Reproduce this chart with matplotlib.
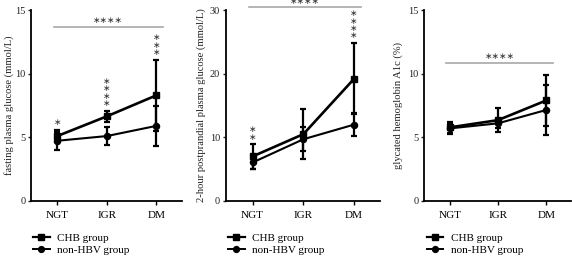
import matplotlib
matplotlib.use("Agg")
import matplotlib.pyplot as plt
from matplotlib.lines import Line2D

plt.rcParams['font.family'] = ['Liberation Serif', 'DejaVu Sans']

categories = ["NGT", "IGR", "DM"]

fpg_chb = [5.1, 6.65, 8.3]
fpg_chb_err = [0.5, 0.45, 2.8]
fpg_non = [4.73, 5.1, 5.9]
fpg_non_err = [0.72, 0.7, 1.55]

ppg_chb = [7.0, 10.5, 19.2]
ppg_chb_err = [1.9, 3.9, 5.6]
ppg_non = [6.05, 9.7, 12.0]
ppg_non_err = [1.0, 1.9, 1.8]

hba_chb = [5.78, 6.35, 7.9]
hba_chb_err = [0.42, 0.95, 2.0]
hba_non = [5.7, 6.1, 7.15]
hba_non_err = [0.4, 0.35, 1.95]

ylabels = ["fasting plasma glucose (mmol/L)",
           "2-hour postprandial plasma glucose (mmol/L)",
           "glycated hemoglobin A1c (%)"]
ylims = [15, 30, 15]
yticks = [[0, 5, 10, 15], [0, 10, 20, 30], [0, 5, 10, 15]]
bar_levels = [13.7, 30.4, 10.85]
stars_per_cat = [[1, 4, 3], [2, 0, 4], [0, 0, 0]]

series = [
    (fpg_chb, fpg_chb_err, fpg_non, fpg_non_err),
    (ppg_chb, ppg_chb_err, ppg_non, ppg_non_err),
    (hba_chb, hba_chb_err, hba_non, hba_non_err),
]

W, H = 572, 258
fig = plt.figure(figsize=(W / 100, H / 100), dpi=100)

# axes in pixel coords: left, right
ax_px = [(31, 181.7), (225.7, 380), (424, 571)]
bottom_px, top_px = 201, 10
legend_x = [33, 228, 426.7]
ylabel_x = [8.8, 201, 398.6]

x = list(range(len(categories)))
for i, (l, r) in enumerate(ax_px):
    ax = fig.add_axes([l / W, (H - bottom_px) / H, (r - l) / W, (bottom_px - top_px) / H])
    chb, chb_e, non, non_e = series[i]
    ax.errorbar(x, chb, yerr=chb_e, color='black', lw=1.9, marker='s', ms=4.6,
                capsize=2, elinewidth=1.6, capthick=1.6, label='CHB group', zorder=3,
                clip_on=False)
    ax.errorbar(x, non, yerr=non_e, color='black', lw=1.5, marker='o', ms=4.4,
                capsize=2, elinewidth=1.6, capthick=1.6, label='non-HBV group', zorder=3,
                clip_on=False)
    ax.set_xlim(-0.53, 2.51)
    ax.set_ylim(0, ylims[i])
    ax.set_yticks(yticks[i])
    ax.set_xticks(x)
    ax.set_xticklabels(categories, fontsize=8)
    ax.tick_params(axis='y', labelsize=7.5, length=2, width=1, pad=2, colors='#222222')
    ax.tick_params(axis='x', length=3, width=1, pad=4)
    for s in ['top', 'right']:
        ax.spines[s].set_visible(False)
    for s in ['left', 'bottom']:
        ax.spines[s].set_linewidth(1.3)
    ax.set_ylabel(ylabels[i], fontsize=7.6, color='#222222', va='center')
    ax.yaxis.set_label_coords((ylabel_x[i] - l) / (r - l), 0.5)

    # significance bar across groups
    ax.plot([-0.07, 2.13], [bar_levels[i]] * 2, color='#a8a8a8', lw=1.2, clip_on=False)
    ax.annotate("∗∗∗∗", xy=(1.03, bar_levels[i]), xytext=(0, 4.5), textcoords='offset points',
                ha='center', va='center', fontsize=6.5, family='DejaVu Sans',
                color='#333333', annotation_clip=False)

    # stacked stars above each category
    for j, n in enumerate(stars_per_cat[i]):
        top = max(chb[j] + chb_e[j], non[j] + non_e[j])
        for k in range(n):
            ax.annotate("∗", xy=(x[j], top), xytext=(0, 5.2 + 5.3 * k),
                        textcoords='offset points', ha='center', va='center',
                        fontsize=6.5, family='DejaVu Sans', color='#333333',
                        annotation_clip=False)

    handles = [Line2D([], [], color='black', lw=1.6, marker='s', ms=4.4),
               Line2D([], [], color='black', lw=1.4, marker='o', ms=4.2)]
    ax.legend(handles, ['CHB group', 'non-HBV group'], loc='upper left',
              bbox_to_anchor=(legend_x[i] / W, 1 - 233 / H),
              bbox_transform=fig.transFigure, frameon=False, fontsize=8,
              borderpad=0, borderaxespad=0, handlelength=1.5, handletextpad=0.7,
              labelspacing=0.25)

fig.savefig("out.png", dpi=100)
